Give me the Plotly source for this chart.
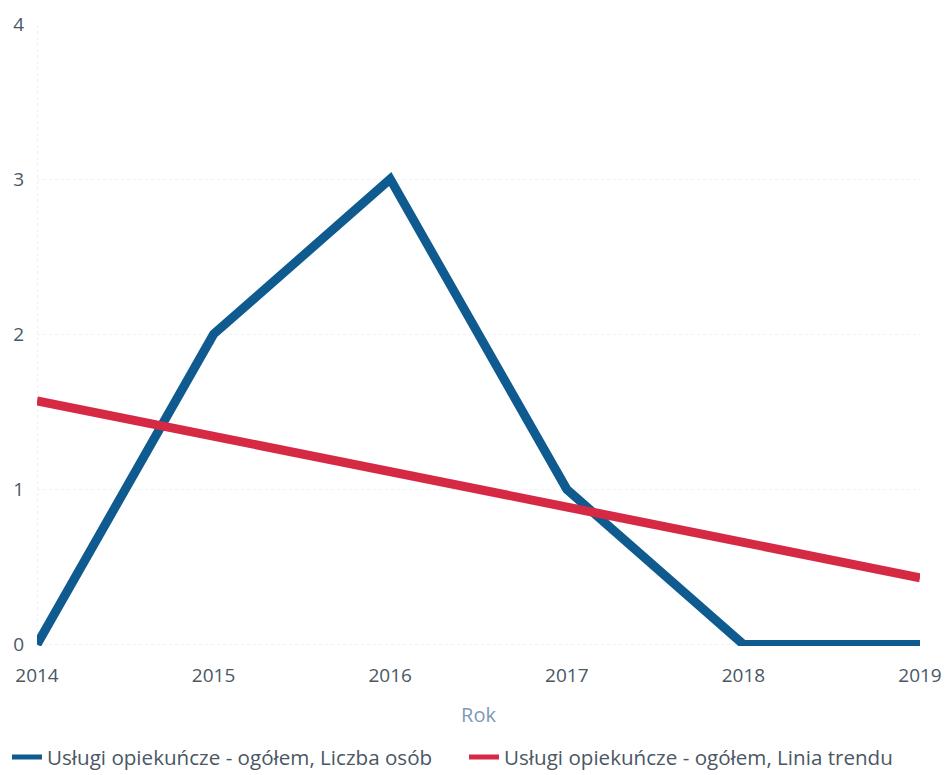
import plotly.graph_objects as go

years = [2014, 2015, 2016, 2017, 2018, 2019]
liczba_osob = [0, 2, 3, 1, 0, 0]
linia_trendu = [1.57, 1.34, 1.11, 0.89, 0.66, 0.43]
y_ticks = [0, 1, 2, 3, 4]

fig = go.Figure()
fig.add_trace(go.Scatter(x=years, y=liczba_osob, mode="lines",
                         name="Usługi opiekuńcze - ogółem, Liczba osób",
                         line=dict(color="#0f5b8f", width=9), legend="legend"))
fig.add_trace(go.Scatter(x=years, y=linia_trendu, mode="lines",
                         name="Usługi opiekuńcze - ogółem, Linia trendu",
                         line=dict(color="#d62a44", width=9), legend="legend2"))

leg_common = dict(orientation="h", xanchor="left", yref="container", y=0.023,
                  yanchor="middle", xref="container",
                  font=dict(size=20.6, color="#4a5764"), itemsizing="constant")

fig.update_layout(
    width=946, height=775,
    margin=dict(l=37, r=26, t=24, b=129, autoexpand=False),
    paper_bgcolor="white", plot_bgcolor="white",
    font=dict(family="Open Sans", size=19, color="#4a5764"),
    showlegend=True,
    legend=dict(x=0.0074, **leg_common),
    legend2=dict(x=0.4905, **leg_common),
    xaxis=dict(range=[2014, 2019], tickvals=years, ticktext=[str(y) for y in years],
               showgrid=False, zeroline=False, showline=False, ticks="",
               automargin=False, ticklabelstandoff=16,
               tickfont=dict(size=19, color="#4a5764"),
               title=dict(text="Rok", font=dict(size=20, color="#7f99b8"), standoff=20)),
    yaxis=dict(range=[-0.01, 4], tickvals=y_ticks, showgrid=True,
               gridcolor="#eef1f5", griddash="dot", zeroline=False,
               showline=False, ticks="", ticklabelstandoff=12, automargin=False,
               tickfont=dict(size=19, color="#4a5764")),
)
fig.add_shape(type="line", xref="x", yref="paper", x0=2014, x1=2014, y0=0, y1=1,
              line=dict(color="#dde6ef", width=1, dash="dot"), layer="below")

fig.write_html("out.html", config={"displayModeBar": False},
               post_script="document.body.style.margin='0';document.body.style.overflow='hidden';")
